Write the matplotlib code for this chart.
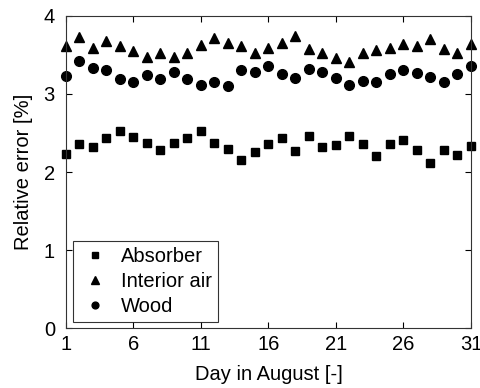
import matplotlib
matplotlib.use("Agg")
import matplotlib.pyplot as plt
import numpy as np

plt.rcParams['font.family'] = ['Liberation Sans', 'DejaVu Sans']

days = list(range(1, 32))
absorber = [2.23, 2.36, 2.32, 2.44, 2.52, 2.45, 2.37, 2.28, 2.37, 2.44,
            2.52, 2.37, 2.30, 2.16, 2.26, 2.36, 2.44, 2.27, 2.46, 2.32,
            2.35, 2.46, 2.36, 2.21, 2.36, 2.41, 2.28, 2.12, 2.28, 2.22, 2.33]
interior_air = [3.61, 3.73, 3.59, 3.68, 3.62, 3.55, 3.47, 3.53, 3.47, 3.53,
                3.63, 3.72, 3.65, 3.61, 3.53, 3.59, 3.66, 3.74, 3.58, 3.53,
                3.46, 3.41, 3.53, 3.56, 3.59, 3.64, 3.61, 3.71, 3.58, 3.53, 3.64]
wood = [3.23, 3.42, 3.33, 3.31, 3.19, 3.16, 3.24, 3.19, 3.28, 3.19,
        3.11, 3.15, 3.10, 3.31, 3.28, 3.36, 3.25, 3.21, 3.32, 3.28,
        3.20, 3.11, 3.17, 3.16, 3.25, 3.31, 3.27, 3.22, 3.15, 3.25, 3.36]
xticks = [1, 6, 11, 16, 21, 26, 31]
yticks = [0, 1, 2, 3, 4]

fig = plt.figure(figsize=(4.81, 3.88), dpi=100)
ax = fig.add_axes([0.1372, 0.1546, 0.9792 - 0.1372, 0.9588 - 0.1546])

ax.plot(days, absorber, 's', color='black', markersize=6, clip_on=False, label='Absorber')
ax.plot(days, interior_air, '^', color='black', markersize=7.5, clip_on=False, label='Interior air')
ax.plot(days, wood, 'o', color='black', markersize=7, clip_on=False, label='Wood')

ax.set_xlim(1, 31)
ax.set_ylim(0, 4)
ax.set_xticks(xticks)
ax.set_yticks(yticks)
ax.tick_params(direction='in', top=True, right=True, length=4, width=0.8,
               labelsize=14.5, colors='black')
ax.tick_params(axis='x', pad=5)
ax.tick_params(axis='y', pad=8)
for s in ax.spines.values():
    s.set_linewidth(0.8)
    s.set_color('#333333')

ax.set_xlabel('Day in August [-]', fontsize=14.5, labelpad=8)
ax.set_ylabel('Relative error [%]', fontsize=14.5, labelpad=8)

leg = ax.legend(loc='lower left', fontsize=14.5, frameon=True, fancybox=False,
                edgecolor='black', handletextpad=0.5, borderpad=0.3,
                labelspacing=0.3, handlelength=1.6, markerscale=0.7,
                borderaxespad=0, bbox_to_anchor=(0.017, 0.019))
leg.get_frame().set_linewidth(0.8)

fig.savefig('out.png', dpi=100)
